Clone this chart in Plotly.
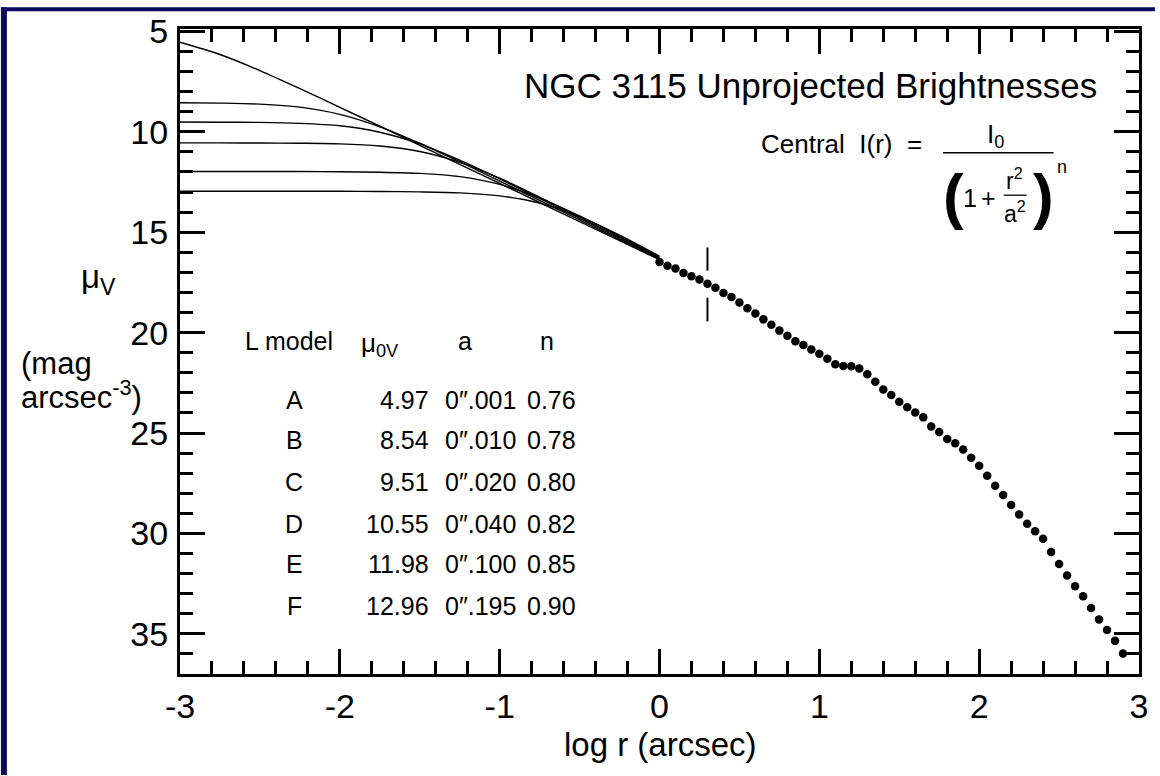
import plotly.graph_objects as go

# ---------------- data ----------------
model_names = ["A", "B", "C", "D", "E", "F"]
mu0v = ["4.97", "8.54", "9.51", "10.55", "11.98", "12.96"]
a_vals = ["0\u2033.001", "0\u2033.010", "0\u2033.020", "0\u2033.040", "0\u2033.100", "0\u2033.195"]
n_vals = ["0.76", "0.78", "0.80", "0.82", "0.85", "0.90"]

model_logr = [-3.0, -2.75, -2.5, -2.25, -2.0, -1.75, -1.5, -1.25, -1.0, -0.75, -0.5, -0.25, 0.0]
model_A = [5.54, 6.15, 6.95, 7.85, 8.78, 9.72, 10.67, 11.62, 12.57, 13.52, 14.47, 15.42, 16.37]
model_B = [8.55, 8.57, 8.62, 8.77, 9.13, 9.75, 10.57, 11.49, 12.45, 13.42, 14.39, 15.37, 16.34]
model_C = [9.51, 9.52, 9.53, 9.58, 9.70, 10.02, 10.60, 11.41, 12.34, 13.32, 14.31, 15.31, 16.31]
model_D = [10.55, 10.55, 10.56, 10.57, 10.60, 10.71, 10.98, 11.52, 12.31, 13.25, 14.25, 15.26, 16.28]
model_E = [11.98, 11.98, 11.98, 11.98, 11.99, 12.01, 12.07, 12.23, 12.62, 13.30, 14.19, 15.20, 16.24]
model_F = [12.96, 12.96, 12.96, 12.96, 12.96, 12.97, 12.99, 13.04, 13.19, 13.55, 14.22, 15.14, 16.19]

data_logr = [0.00, 0.05, 0.10, 0.15, 0.20, 0.25, 0.30, 0.35, 0.40, 0.45,
             0.50, 0.55, 0.60, 0.65, 0.70, 0.75, 0.80, 0.85, 0.90, 0.95,
             1.00, 1.05, 1.10, 1.15, 1.20, 1.25, 1.30, 1.35, 1.40, 1.45,
             1.50, 1.55, 1.60, 1.65, 1.70, 1.75, 1.80, 1.85, 1.90, 1.95,
             2.00, 2.05, 2.10, 2.15, 2.20, 2.25, 2.30, 2.35, 2.40, 2.45,
             2.50, 2.55, 2.60, 2.65, 2.70, 2.75, 2.80, 2.85, 2.90]
data_mu = [16.48, 16.67, 16.81, 17.03, 17.19, 17.36, 17.57, 17.77, 18.03, 18.23,
           18.50, 18.79, 19.05, 19.34, 19.61, 19.90, 20.15, 20.43, 20.62, 20.84,
           21.05, 21.30, 21.58, 21.66, 21.68, 21.79, 22.07, 22.45, 22.83, 23.11,
           23.44, 23.72, 23.98, 24.22, 24.67, 24.95, 25.30, 25.51, 25.82, 26.23,
           26.63, 27.13, 27.63, 28.09, 28.58, 29.06, 29.52, 29.89, 30.26, 30.92,
           31.52, 32.10, 32.63, 33.13, 33.71, 34.28, 34.81, 35.35, 35.98]

x_tickvals = [-3, -2, -1, 0, 1, 2, 3]
x_ticktext = ["-3", "-2", "-1", "0", "1", "2", "3"]
y_tickvals = [5, 10, 15, 20, 25, 30, 35]
y_ticktext = ["5", "10", "15", "20", "25", "30", "35"]

# ---------------- layout helpers ----------------
W, H = 1160, 776
L, R, T, B = 180, 1144, 22, 674
FONT = "Liberation Sans, Arial, Helvetica, sans-serif"


def pxx(x):
    return (x - L) / (R - L)


def pxy(y):
    return (B - y) / (B - T)


fig = go.Figure()

for name, ys in zip(model_names, [model_A, model_B, model_C, model_D, model_E, model_F]):
    fig.add_trace(go.Scatter(x=model_logr, y=ys, mode="lines", name=name,
                             line=dict(color="black", width=1.4, shape="spline", smoothing=0.8),
                             hoverinfo="skip", showlegend=False))

fig.add_trace(go.Scatter(x=data_logr, y=data_mu, mode="markers", name="data",
                         marker=dict(color="black", size=8.5, line=dict(width=0)),
                         hoverinfo="skip", showlegend=False))

ann = []


def text(x, y, s, size, xanchor="center", yanchor="middle"):
    ann.append(dict(x=pxx(x), y=pxy(y), xref="paper", yref="paper", text=s,
                    showarrow=False, xanchor=xanchor, yanchor=yanchor,
                    font=dict(family=FONT, size=size, color="black")))


# title
text(1104, 79, "NGC 3115 Unprojected Brightnesses", 35, xanchor="right")

# formula
text(762, 138, "Central&nbsp;&nbsp;I(r)&nbsp;&nbsp;=", 26, xanchor="left")
text(1000, 130, "I<sub>0</sub>", 26)
text(958, 190, "<b>(</b>", 62)
text(974, 193, "1", 25)
text(993, 193, "+", 25)
text(1019, 174, "r<sup>2</sup>", 23)
text(1019, 207, "a<sup>2</sup>", 23)
text(1048, 190, "<b>)</b>", 62)
text(1067, 161, "n", 18)

# table
text(290, 337, "L model", 25)
text(360, 341, "\u03bc<sub>0V</sub>", 26, xanchor="left")
text(466, 337, "a", 25)
text(549, 337, "n", 25)
row_y = [397, 437, 480, 522, 563, 605]
for yy, nm, m0, av, nv in zip(row_y, model_names, mu0v, a_vals, n_vals):
    text(295, yy, nm, 25)
    text(432, yy, m0, 25, xanchor="right")
    text(520, yy, av, 25, xanchor="right")
    text(580, yy, nv, 25, xanchor="right")

# axis titles
text(78, 275, "\u03bc<sub>V</sub>", 33, xanchor="left")
text(18, 360, "(mag", 31, xanchor="left")
text(18, 392, "arcsec<sup>-3</sup>)", 31, xanchor="left")
text(663, 745, "log r (arcsec)", 33)

shapes = [
    # marker at log r = 0.3
    dict(type="line", xref="x", yref="y", x0=0.3, x1=0.3, y0=15.76, y1=16.91,
         line=dict(color="black", width=2)),
    dict(type="line", xref="x", yref="y", x0=0.3, x1=0.3, y0=18.26, y1=19.44,
         line=dict(color="black", width=2)),
    # fraction bars
    dict(type="line", xref="paper", yref="paper", x0=pxx(947), x1=pxx(1058), y0=pxy(147), y1=pxy(147),
         line=dict(color="black", width=1.5)),
    dict(type="line", xref="paper", yref="paper", x0=pxx(1008), x1=pxx(1031), y0=pxy(190), y1=pxy(190),
         line=dict(color="black", width=1.3)),
    # dark blue border strips
    dict(type="rect", xref="paper", yref="paper", x0=pxx(0), x1=pxx(6), y0=pxy(H), y1=pxy(0),
         fillcolor="#0b0b5e", line=dict(width=0), layer="above"),
    dict(type="rect", xref="paper", yref="paper", x0=pxx(0), x1=pxx(W), y0=pxy(4), y1=pxy(0),
         fillcolor="#0b0b5e", line=dict(width=0), layer="above"),
]

axis_common = dict(
    showgrid=False, zeroline=False, showline=True, linecolor="black", linewidth=3,
    mirror="allticks", ticks="inside", ticklen=25, tickwidth=2.5, tickcolor="black",
    tickfont=dict(family=FONT, size=34, color="black"),
)

fig.update_layout(
    width=W, height=H,
    margin=dict(l=L, r=W - R, t=T, b=H - B),
    paper_bgcolor="white", plot_bgcolor="white",
    xaxis=dict(range=[-3, 3], tickmode="array", tickvals=x_tickvals, ticktext=x_ticktext,
               minor=dict(dtick=0.2, tick0=0, ticks="inside", ticklen=13, tickwidth=2.5, tickcolor="black"),
               ticklabelstandoff=0, **axis_common),
    yaxis=dict(range=[37.0, 4.88], autorange=False, tickmode="array", tickvals=y_tickvals,
               ticktext=y_ticktext,
               minor=dict(dtick=1, tick0=0, ticks="inside", ticklen=13, tickwidth=2.5, tickcolor="black"),
               ticklabelstandoff=2, **axis_common),
    annotations=ann, shapes=shapes, showlegend=False, hovermode=False,
)

fig.write_html("out.html", config={"displayModeBar": False})
